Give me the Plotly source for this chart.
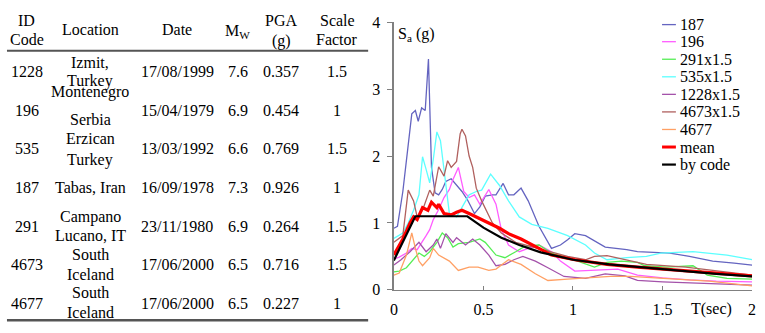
import plotly.graph_objects as go

W, H = 765, 333
FONT = "Liberation Serif"

# ---------------- table data ----------------
id_codes = ["1228", "196", "535", "187", "291", "4673", "4677"]
locations = [["Izmit,", "Turkey"], ["Montenegro", "Serbia"], ["Erzican", "Turkey"],
             ["Tabas, Iran"], ["Campano", "Lucano, IT"], ["South", "Iceland"], ["South", "Iceland"]]
dates = ["17/08/1999", "15/04/1979", "13/03/1992", "16/09/1978", "23/11/1980", "17/06/2000", "17/06/2000"]
mw = ["7.6", "6.9", "6.6", "7.3", "6.9", "6.5", "6.5"]
pga = ["0.357", "0.454", "0.769", "0.926", "0.264", "0.716", "0.227"]
scale_factor = ["1.5", "1", "1.5", "1", "1.5", "1.5", "1"]

# ---------------- spectra data ----------------
T_187 = [0, 0.02, 0.05, 0.08, 0.1, 0.12, 0.136, 0.155, 0.175, 0.193, 0.21, 0.23, 0.25, 0.27, 0.29, 0.32, 0.35, 0.38,
         0.41, 0.45, 0.48, 0.51, 0.55, 0.57, 0.61, 0.64, 0.67, 0.71, 0.75, 0.81, 0.88, 0.93, 0.97, 1.01, 1.07, 1.18,
         1.3, 1.36, 1.45, 1.54, 1.65, 1.78, 1.9, 2.0]
Sa_187 = [0.92, 0.95, 1.47, 2.2, 2.63, 2.68, 2.52, 2.72, 2.68, 3.45, 1.83, 1.45, 1.42, 1.5, 1.62, 1.66, 1.56, 1.47,
          1.35, 1.14, 1.24, 1.4, 1.42, 1.42, 1.59, 1.42, 1.42, 1.52, 1.33, 0.95, 0.62, 0.67, 0.75, 0.84, 0.81, 0.64,
          0.6, 0.57, 0.56, 0.55, 0.5, 0.43, 0.4, 0.37]

T_196 = [0, 0.03, 0.07, 0.1, 0.13, 0.16, 0.18, 0.2, 0.22, 0.25, 0.28, 0.31, 0.33, 0.36, 0.39, 0.42, 0.45, 0.48, 0.51,
         0.53, 0.57, 0.6, 0.64, 0.7, 0.75, 0.81, 0.88, 0.93, 1.01, 1.12, 1.25, 1.36, 1.5, 1.65, 1.8, 2.0]
Sa_196 = [0.46, 0.49, 0.55, 0.62, 0.6, 0.72, 0.81, 0.9, 1.05, 1.2, 1.38, 1.5, 1.65, 1.83, 1.47, 1.38, 1.42, 1.28, 1.4,
          1.5, 1.28, 0.9, 0.67, 0.57, 0.62, 0.67, 0.57, 0.43, 0.28, 0.29, 0.31, 0.22, 0.18, 0.15, 0.13, 0.12]

T_291 = [0, 0.03, 0.07, 0.1, 0.12, 0.14, 0.17, 0.2, 0.24, 0.27, 0.3, 0.33, 0.36, 0.42, 0.48, 0.51, 0.57, 0.62, 0.68,
         0.73, 0.81, 0.88, 0.97, 1.05, 1.12, 1.19, 1.27, 1.36, 1.4, 1.52, 1.67, 1.75, 1.86, 2.0]
Sa_291 = [0.27, 0.28, 0.33, 0.43, 0.48, 0.55, 0.5, 0.57, 0.71, 0.85, 0.78, 0.64, 0.69, 0.71, 0.76, 0.71, 0.52, 0.48,
          0.57, 0.65, 0.67, 0.55, 0.48, 0.4, 0.34, 0.41, 0.43, 0.41, 0.36, 0.34, 0.36, 0.22, 0.17, 0.16]

T_535 = [0, 0.05, 0.08, 0.11, 0.14, 0.16, 0.18, 0.2, 0.22, 0.24, 0.26, 0.28, 0.31, 0.35, 0.38, 0.42, 0.46, 0.49, 0.54,
         0.59, 0.64, 0.7, 0.77, 0.86, 0.97, 1.07, 1.12, 1.19, 1.3, 1.41, 1.49, 1.67, 1.86, 2.0]
Sa_535 = [0.77, 0.85, 1.0, 1.19, 1.42, 1.99, 1.8, 1.6, 1.95, 2.36, 2.23, 1.8, 1.14, 1.09, 1.23, 1.42, 1.47, 1.49, 1.73,
          1.56, 1.33, 1.09, 0.98, 0.92, 0.81, 0.67, 0.55, 0.45, 0.48, 0.5, 0.55, 0.57, 0.52, 0.45]

T_1228 = [0, 0.04, 0.09, 0.14, 0.18, 0.22, 0.24, 0.26, 0.29, 0.33, 0.35, 0.4, 0.44, 0.48, 0.53, 0.57, 0.62, 0.67, 0.72,
          0.79, 0.86, 0.95, 1.07, 1.18, 1.29, 1.36, 1.5, 1.7, 1.85, 2.0]
Sa_1228 = [0.37, 0.45, 0.57, 0.71, 0.57, 0.67, 0.76, 0.62, 0.84, 0.71, 0.78, 0.67, 0.76, 0.67, 0.52, 0.36, 0.38, 0.45,
           0.5, 0.43, 0.33, 0.2, 0.17, 0.24, 0.21, 0.14, 0.12, 0.1, 0.09, 0.07]

T_4673 = [0, 0.05, 0.08, 0.11, 0.13, 0.16, 0.2, 0.22, 0.25, 0.28, 0.3, 0.32, 0.35, 0.37, 0.38, 0.4, 0.42, 0.44, 0.46,
          0.49, 0.55, 0.6, 0.68, 0.75, 0.86, 0.97, 1.07, 1.12, 1.19, 1.3, 1.41, 1.63, 1.8, 2.0]
Sa_4673 = [0.71, 0.81, 1.49, 1.33, 1.09, 1.19, 1.49, 1.4, 1.84, 1.7, 1.93, 1.83, 1.92, 2.33, 2.4, 2.3, 2.0, 1.83, 1.52,
           1.33, 1.0, 0.85, 0.71, 0.66, 0.58, 0.5, 0.45, 0.5, 0.51, 0.45, 0.38, 0.34, 0.28, 0.22]

T_4677 = [0, 0.03, 0.07, 0.1, 0.12, 0.14, 0.16, 0.2, 0.22, 0.25, 0.31, 0.36, 0.42, 0.47, 0.53, 0.57, 0.64, 0.71, 0.79,
          0.86, 0.97, 1.08, 1.21, 1.32, 1.51, 1.76, 2.0]
Sa_4677 = [0.22, 0.25, 0.52, 0.85, 0.62, 0.43, 0.36, 0.48, 0.62, 0.52, 0.43, 0.29, 0.34, 0.34, 0.29, 0.31, 0.45, 0.38,
           0.24, 0.14, 0.16, 0.18, 0.2, 0.2, 0.17, 0.13, 0.06]

T_mean = [0, 0.05, 0.09, 0.11, 0.13, 0.16, 0.19, 0.21, 0.24, 0.25, 0.28, 0.32, 0.35, 0.38, 0.42, 0.48, 0.53, 0.59,
          0.64, 0.71, 0.81, 0.88, 1.01, 1.19, 1.36, 1.5, 1.7, 1.85, 2.0]
Sa_mean = [0.52, 0.76, 1.0, 1.09, 1.05, 1.23, 1.19, 1.31, 1.23, 1.28, 1.14, 1.12, 1.16, 1.19, 1.14, 1.06, 0.99, 0.92,
           0.84, 0.76, 0.62, 0.52, 0.45, 0.38, 0.34, 0.31, 0.27, 0.24, 0.21]

T_code = [0, 0.12, 0.41, 0.5, 0.6, 0.7, 0.82, 1.0, 1.2, 1.4, 1.6, 1.8, 2.0]
Sa_code = [0.44, 1.1, 1.1, 0.93, 0.78, 0.67, 0.56, 0.45, 0.38, 0.33, 0.28, 0.24, 0.2]

x_ticks = [0, 0.5, 1, 1.5, 2]
x_tick_labels = ["0", "0.5", "1", "1.5", "2"]
y_ticks = [0, 1, 2, 3, 4]
y_tick_labels = ["0", "1", "2", "3", "4"]

series = [
    ("187", T_187, Sa_187, "#6464c0", 1.3),
    ("196", T_196, Sa_196, "#ff5cff", 1.3),
    ("291x1.5", T_291, Sa_291, "#55ee55", 1.3),
    ("535x1.5", T_535, Sa_535, "#5cffff", 1.3),
    ("1228x1.5", T_1228, Sa_1228, "#a452aa", 1.3),
    ("4673x1.5", T_4673, Sa_4673, "#b0605e", 1.3),
    ("4677", T_4677, Sa_4677, "#ffa064", 1.3),
    ("mean", T_mean, Sa_mean, "#ff0000", 3.2),
    ("by code", T_code, Sa_code, "#000000", 2.2),
]

fig = go.Figure()
for name, t, s, c, w in series:
    fig.add_trace(go.Scatter(x=t, y=s, mode="lines", name=name, line=dict(color=c, width=w), showlegend=False,
                             hoverinfo="skip"))


def px(x):
    return x / W


def py(y):
    return 1 - y / H


ann = []
shapes = []
TF = dict(family=FONT, size=16, color="black")

# table header
col_x = [23, 87, 175, 236, 280, 337]
ann += [
    dict(x=px(col_x[0]), y=py(13), text="ID"),
    dict(x=px(col_x[0]), y=py(33), text="Code"),
    dict(x=px(col_x[1]), y=py(23), text="Location"),
    dict(x=px(col_x[2]), y=py(23), text="Date"),
    dict(x=px(col_x[3]), y=py(25), text="M<sub>W</sub>"),
    dict(x=px(col_x[4]), y=py(13), text="PGA"),
    dict(x=px(col_x[4]), y=py(35), text="(g)"),
    dict(x=px(col_x[5]), y=py(13), text="Scale"),
    dict(x=px(col_x[5]), y=py(33), text="Factor"),
]
row_y = [67, 108, 148, 189, 230, 270, 311]
loc_y = [[57, 77], [89, 118], [138, 160], [189], [220, 240], [260, 281], [300, 321]]
for i in range(len(id_codes)):
    yy = row_y[i]
    ann.append(dict(x=px(col_x[0]), y=py(yy), text=id_codes[i]))
    for line, ly in zip(locations[i], loc_y[i]):
        ann.append(dict(x=px(col_x[1]), y=py(ly), text=line))
    ann.append(dict(x=px(col_x[2]), y=py(yy), text=dates[i]))
    ann.append(dict(x=px(col_x[3]), y=py(yy), text=mw[i]))
    ann.append(dict(x=px(col_x[4]), y=py(yy), text=pga[i]))
    ann.append(dict(x=px(col_x[5]), y=py(yy), text=scale_factor[i]))

for a in ann:
    a.update(xref="paper", yref="paper", showarrow=False, font=TF, xanchor="center", yanchor="middle")

shapes.append(dict(type="line", xref="paper", yref="paper", x0=px(3), x1=px(368), y0=py(45), y1=py(45),
                   line=dict(color="#555555", width=2)))
shapes.append(dict(type="line", xref="paper", yref="paper", x0=px(3), x1=px(368), y0=py(329), y1=py(329),
                   line=dict(color="#555555", width=2.5)))

# manual legend
leg_y = [17.5, 35.5, 54, 72.5, 91, 109.5, 128, 146.5, 165]
for (name, t, s, c, w), ly in zip(series, leg_y):
    shapes.append(dict(type="line", xref="paper", yref="paper", x0=px(665), x1=px(679), y0=py(ly), y1=py(ly),
                       line=dict(color=c, width=min(w, 2.5) if name != "mean" else 3)))
    ann.append(dict(xref="paper", yref="paper", x=px(681), y=py(ly), text=name, showarrow=False,
                    font=TF, xanchor="left", yanchor="middle"))

# axis titles
ann.append(dict(xref="paper", yref="paper", x=px(396), y=py(28), text="S<sub>a</sub> (g)", showarrow=False,
                font=TF, xanchor="left", yanchor="middle"))
ann.append(dict(xref="paper", yref="paper", x=px(715), y=py(317), text="T(sec)", showarrow=False,
                font=TF, xanchor="center", yanchor="middle"))

fig.update_layout(
    width=W, height=H,
    margin=dict(l=0, r=0, t=0, b=0),
    paper_bgcolor="white", plot_bgcolor="white",
    font=dict(family=FONT),
    hovermode=False,
    annotations=ann, shapes=shapes,
    xaxis=dict(domain=[px(394), px(756)], range=[0, 2], tickvals=x_ticks, ticktext=x_tick_labels,
               ticks="inside", ticklen=4, tickcolor="#808080", showline=True, linecolor="#808080", linewidth=1.5,
               showgrid=False, zeroline=False, tickfont=dict(family=FONT, size=16, color="black"),
               ticklabelstandoff=4),
    yaxis=dict(domain=[py(297), py(15)], range=[0, 4], tickvals=y_ticks, ticktext=y_tick_labels,
               ticks="outside", ticklen=5, tickcolor="#808080", showline=True, linecolor="#808080", linewidth=1.5,
               showgrid=False, zeroline=False, tickfont=dict(family=FONT, size=16, color="black"),
               ticklabelstandoff=4),
)

fig.write_html(
    "out.html",
    config={"displayModeBar": False, "staticPlot": True},
    post_script=("var gd=document.getElementById('{plot_id}');"
                 "gd.style.position='fixed';gd.style.left='0px';gd.style.top='0px';"
                 "document.documentElement.style.margin='0';document.documentElement.style.padding='0';"
                 "document.documentElement.style.overflow='hidden';"
                 "document.body.style.margin='0';document.body.style.padding='0';"
                 "document.body.style.overflow='hidden';"),
)
